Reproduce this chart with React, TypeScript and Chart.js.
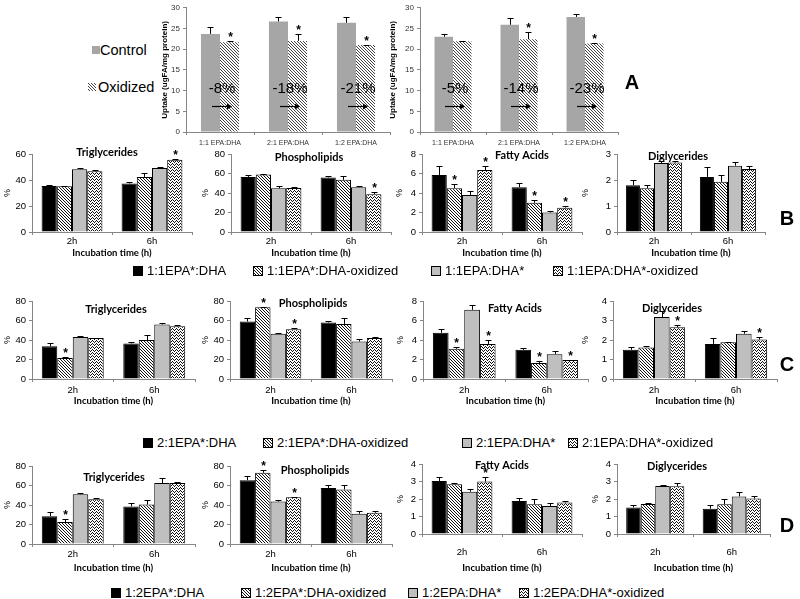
import React, { useEffect, useRef } from 'react';
import { Chart, registerables } from 'chart.js';
Chart.register(...registerables);

const SANS = "'Liberation Sans', Arial, sans-serif";
const TFONT = "Lato, 'Liberation Sans', Arial, sans-serif";

// ---------------- Panel A data ----------------
const aCategories = ['1:1 EPA:DHA', '2:1 EPA:DHA', '1:2 EPA:DHA'];
const aSeriesNames = ['Control', 'Oxidized'];
const aLeftControl = [23.7, 26.7, 26.4];
const aLeftControlErr = [1.6, 1.0, 1.4];
const aLeftOxidized = [21.7, 22.0, 21.0];
const aLeftOxidizedErr = [0.2, 1.7, 0.1];
const aLeftSig = [1, 1, 1];
const aLeftChange = ['-8%', '-18%', '-21%'];
const aRightControl = [23.0, 25.9, 27.8];
const aRightControlErr = [0.6, 1.6, 0.7];
const aRightOxidized = [21.9, 22.4, 21.4];
const aRightOxidizedErr = [0.2, 1.7, 0.1];
const aRightSig = [0, 1, 1];
const aRightChange = ['-5%', '-14%', '-23%'];

// ---------------- Rows B, C, D ----------------
const timePoints = ['2h', '6h'];
const rowBNames = ['1:1EPA*:DHA', '1:1EPA*:DHA-oxidized', '1:1EPA:DHA*', '1:1EPA:DHA*-oxidized'];
const rowCNames = ['2:1EPA*:DHA', '2:1EPA*:DHA-oxidized', '2:1EPA:DHA*', '2:1EPA:DHA*-oxidized'];
const rowDNames = ['1:2EPA*:DHA', '1:2EPA*:DHA-oxidized', '1:2EPA:DHA*', '1:2EPA:DHA*-oxidized'];
const panelTitles = ['Triglycerides', 'Phospholipids', 'Fatty Acids', 'Diglycerides'];
const xTitle = 'Incubation time (h)';

// each: [series][2h, 6h]
const bTrigMeans = [[35.3, 37.3], [35.1, 42.4], [48.2, 49.2], [46.7, 55.6]];
const bTrigErr = [[0.5, 1.2], [0.5, 2.9], [1.1, 1.1], [0.9, 0.4]];
const bTrigSig = [[0, 0], [0, 0], [0, 0], [0, 1]];
const bPhosMeans = [[56.5, 56.0], [59.0, 53.5], [44.8, 46.0], [45.2, 38.8]];
const bPhosErr = [[1.5, 1.3], [0.3, 4.0], [2.2, 1.3], [0.5, 2.2]];
const bPhosSig = [[0, 0], [0, 0], [0, 0], [0, 1]];
const bFattyMeans = [[5.85, 4.6], [4.5, 3.0], [3.8, 2.0], [6.35, 2.5]];
const bFattyErr = [[0.9, 0.4], [0.4, 0.25], [0.4, 0.2], [0.4, 0.15]];
const bFattySig = [[0, 0], [1, 1], [0, 0], [1, 1]];
const bDigMeans = [[1.8, 2.12], [1.68, 1.93], [2.65, 2.55], [2.67, 2.42]];
const bDigErr = [[0.2, 0.38], [0.12, 0.27], [0.1, 0.15], [0.08, 0.1]];
const bDigSig = [[0, 0], [0, 0], [0, 0], [0, 0]];

const cTrigMeans = [[33.5, 36.5], [21.5, 40.0], [43.2, 56.0], [42.0, 54.0]];
const cTrigErr = [[3.0, 1.0], [0.8, 5.5], [0.6, 1.3], [0.5, 1.0]];
const cTrigSig = [[0, 0], [1, 0], [0, 0], [0, 0]];
const cPhosMeans = [[59.0, 58.0], [73.5, 56.5], [46.5, 38.5], [51.0, 42.0]];
const cPhosErr = [[3.5, 1.5], [0.5, 6.5], [1.0, 2.5], [0.8, 1.3]];
const cPhosSig = [[0, 0], [1, 0], [0, 0], [1, 0]];
const cFattyMeans = [[4.75, 3.0], [3.1, 1.65], [7.1, 2.55], [3.6, 1.95]];
const cFattyErr = [[0.35, 0.15], [0.15, 0.2], [0.45, 0.35], [0.35, 0.05]];
const cFattySig = [[0, 0], [1, 1], [0, 0], [1, 1]];
const cDigMeans = [[1.5, 1.8], [1.62, 1.88], [3.18, 2.32], [2.65, 2.02]];
const cDigErr = [[0.13, 0.3], [0.05, 0.04], [0.29, 0.13], [0.11, 0.15]];
const cDigSig = [[0, 0], [0, 0], [0, 0], [1, 1]];

const dTrigMeans = [[28.5, 38.5], [22.5, 40.5], [51.0, 62.5], [46.0, 62.5]];
const dTrigErr = [[4.0, 3.5], [3.0, 5.0], [1.0, 5.0], [0.7, 0.7]];
const dTrigSig = [[0, 0], [1, 0], [0, 0], [0, 0]];
const dPhosMeans = [[65.5, 57.5], [73.0, 56.0], [43.5, 31.0], [48.0, 32.0]];
const dPhosErr = [[4.0, 3.5], [3.0, 4.3], [2.0, 3.0], [0.5, 1.5]];
const dPhosSig = [[0, 0], [1, 0], [0, 0], [1, 0]];
const dFattyMeans = [[3.03, 1.88], [2.85, 1.7], [2.42, 1.6], [3.0, 1.8]];
const dFattyErr = [[0.22, 0.15], [0.08, 0.28], [0.15, 0.17], [0.27, 0.07]];
const dFattySig = [[0, 0], [0, 0], [0, 0], [1, 0]];
const dDigMeans = [[1.52, 1.45], [1.72, 1.7], [2.75, 2.15], [2.73, 2.03]];
const dDigErr = [[0.16, 0.18], [0.06, 0.32], [0.07, 0.25], [0.19, 0.17]];
const dDigSig = [[0, 0], [0, 0], [0, 0], [0, 0]];

// y-axis ranges: [max, step]
const bAxes = [[60, 10], [80, 20], [8, 2], [3, 0.5]];
const cAxes = [[80, 20], [80, 20], [8, 2], [4, 1]];
const dAxes = [[80, 20], [80, 20], [4, 1], [4, 1]];

const seriesFills = ['black', 'diag', 'gray', 'wave'];

// ---------------- helpers ----------------
function makeFill(kind: string): any {
  if (kind === 'black') return '#000000';
  if (kind === 'gray') return '#BFBFBF';
  if (kind === 'ctrl') return '#A6A6A6';
  const c = document.createElement('canvas');
  if (kind === 'diag' || kind === 'diagA') {
    const s = 3;
    c.width = s; c.height = s;
    const ctx = c.getContext('2d')!;
    ctx.fillStyle = '#fff'; ctx.fillRect(0, 0, s, s);
    ctx.fillStyle = kind === 'diag' ? '#111' : '#444';
    // one pixel per row, shifting right each row -> "\" lines
    for (let r = 0; r < s; r++) ctx.fillRect(r, r, 1, 1);
    return ctx.createPattern(c, 'repeat');
  }
  c.width = 4; c.height = 3;
  const ctx = c.getContext('2d')!;
  ctx.fillStyle = '#fff'; ctx.fillRect(0, 0, 4, 3);
  ctx.fillStyle = '#111';
  ctx.fillRect(0, 2, 1, 1);
  ctx.fillRect(1, 1, 1, 1);
  ctx.fillRect(2, 0, 1, 1);
  ctx.fillRect(3, 1, 1, 1);
  return ctx.createPattern(c, 'repeat');
}

function decor(errs: number[][], sig: number[][], cap: number, extra?: (chart: any) => void) {
  return {
    id: 'decor',
    afterDatasetsDraw(chart: any) {
      const ctx = chart.ctx;
      const ys = chart.scales.y;
      ctx.save();
      chart.data.datasets.forEach((ds: any, i: number) => {
        const meta = chart.getDatasetMeta(i);
        meta.data.forEach((el: any, j: number) => {
          const v = ds.data[j];
          const e = errs[i][j];
          const x = Math.round(el.x) + 0.5;
          const yt = Math.round(ys.getPixelForValue(v + e)) + 0.5;
          ctx.strokeStyle = '#000';
          ctx.lineWidth = 1;
          ctx.beginPath();
          ctx.moveTo(x, el.y);
          ctx.lineTo(x, yt);
          ctx.moveTo(x - cap, yt);
          ctx.lineTo(x + cap, yt);
          ctx.stroke();
          if (sig[i][j]) {
            ctx.fillStyle = '#000';
            ctx.font = `bold 12px ${SANS}`;
            ctx.textAlign = 'center';
            ctx.textBaseline = 'alphabetic';
            ctx.fillText('*', x, yt - 1);
          }
        });
      });
      if (extra) extra(chart);
      ctx.restore();
    },
  };
}

type Geo = { pL: number; pR: number; pT: number; pB: number; pctX: number; tickY: number; titleY: number; tx: number; ty: number };
type RowSpec = { title: string; means: number[][]; errs: number[][]; sig: number[][]; axis: number[]; comma?: boolean; names: string[]; geo: Geo };

function rowLayout(g: Geo) {
  const x = Math.round(g.pctX - 5.4);
  const y = g.pT - 12;
  const bottom = Math.round(g.titleY + 6.7);
  return {
    x, y, w: g.pR + 3 - x, h: bottom - y,
    yW: g.pL - x, xH: bottom - g.pB, padTop: 12, padRight: 3,
    tickPad: g.tickY - g.pB - 3 - 5.7, titlePad: bottom - g.titleY - 5.7,
  };
}

function rowConfig(s: RowSpec) {
  const L = rowLayout(s.geo);
  const fills = seriesFills.map(makeFill);
  const axisColor = '#868686';
  return {
    type: 'bar',
    data: {
      labels: timePoints,
      datasets: s.means.map((m, i) => ({
        label: s.names[i], data: m, backgroundColor: fills[i], borderColor: '#000', borderWidth: 1,
        categoryPercentage: 0.76, barPercentage: 1,
      })),
    },
    options: {
      animation: false, responsive: false, devicePixelRatio: 1,
      layout: { padding: { top: L.padTop, right: L.padRight, left: 0, bottom: 0 } },
      plugins: { legend: { display: false }, tooltip: { enabled: false } },
      scales: {
        x: {
          ticks: { font: { family: SANS, size: 9.5 }, color: '#000', padding: L.tickPad, maxRotation: 0 },
          grid: { display: true, drawOnChartArea: false, drawTicks: true, tickLength: 3, offset: true, color: axisColor },
          border: { display: true, color: axisColor },
          title: { display: true, text: xTitle, font: { family: TFONT, size: 9.5, weight: 'bold' }, padding: { top: 0, bottom: L.titlePad }, color: '#000' },
          afterFit: (sc: any) => { sc.height = L.xH; },
        },
        y: {
          min: 0, max: s.axis[0],
          ticks: {
            stepSize: s.axis[1], font: { family: SANS, size: 9.5 }, color: '#000', padding: 3,
            callback: (v: any) => (s.comma ? String(v).replace('.', ',') : String(v)),
          },
          grid: { display: true, drawOnChartArea: false, drawTicks: true, tickLength: 3, color: axisColor },
          border: { display: true, color: axisColor },
          title: { display: true, text: '%', font: { family: SANS, size: 9 }, padding: 0, color: '#000' },
          afterFit: (sc: any) => { sc.width = L.yW; },
        },
      },
    },
    plugins: [decor(s.errs, s.sig, 3, (chart: any) => {
      const ctx = chart.ctx;
      ctx.fillStyle = '#000';
      ctx.font = `bold 11px ${TFONT}`;
      ctx.textAlign = 'center';
      ctx.textBaseline = 'middle';
      ctx.fillText(s.title, s.geo.tx - L.x, s.geo.ty - L.y);
    })],
  };
}

type ASpec = { control: number[]; controlErr: number[]; ox: number[]; oxErr: number[]; sig: number[]; change: string[]; x: number; pL: number; pR: number };

function aConfig(s: ASpec) {
  const axisColor = '#868686';
  const yW = s.pL - s.x;
  return {
    type: 'bar',
    data: {
      labels: aCategories,
      datasets: [
        { label: aSeriesNames[0], data: s.control, backgroundColor: makeFill('ctrl'), borderWidth: 0, categoryPercentage: 0.56, barPercentage: 1 },
        { label: aSeriesNames[1], data: s.ox, backgroundColor: makeFill('diagA'), borderWidth: 0, categoryPercentage: 0.56, barPercentage: 1 },
      ],
    },
    options: {
      animation: false, responsive: false, devicePixelRatio: 1,
      layout: { padding: { top: 5, right: 2, left: 0, bottom: 0 } },
      plugins: { legend: { display: false }, tooltip: { enabled: false } },
      scales: {
        x: {
          ticks: { font: { family: SANS, size: 7 }, color: '#333', padding: 3.8, maxRotation: 0, autoSkip: false },
          grid: { display: true, drawOnChartArea: false, drawTicks: true, tickLength: 3, offset: true, color: axisColor },
          border: { display: true, color: axisColor },
          afterFit: (sc: any) => { sc.height = 18; },
        },
        y: {
          min: 0, max: 30,
          ticks: { stepSize: 5, font: { family: SANS, size: 8 }, color: '#333', padding: 3 },
          grid: { display: true, drawOnChartArea: false, drawTicks: true, tickLength: 3, color: axisColor },
          border: { display: true, color: axisColor },
          title: { display: true, text: 'Uptake (ugFA/mg protein)', font: { family: SANS, size: 8, weight: 'bold' }, padding: 0, color: '#000' },
          afterFit: (sc: any) => { sc.width = yW; },
        },
      },
    },
    plugins: [decor([s.controlErr, s.oxErr], [[0, 0, 0], s.sig], 3, (chart: any) => {
      const ctx = chart.ctx;
      const xs = chart.scales.x;
      const ys = chart.scales.y;
      s.change.forEach((txt, i) => {
        const cx = xs.getPixelForValue(i) + 2;
        ctx.fillStyle = '#000';
        ctx.font = `15px ${SANS}`;
        ctx.textAlign = 'center';
        ctx.textBaseline = 'middle';
        ctx.fillText(txt, cx, ys.getPixelForValue(10.4));
        const ay = Math.round(ys.getPixelForValue(6.4)) + 0.5;
        ctx.strokeStyle = '#000';
        ctx.lineWidth = 1.2;
        ctx.beginPath();
        ctx.moveTo(cx - 10, ay); ctx.lineTo(cx + 9, ay);
        ctx.stroke();
        ctx.beginPath();
        ctx.moveTo(cx + 10, ay); ctx.lineTo(cx + 5, ay - 3); ctx.lineTo(cx + 5, ay + 3); ctx.closePath();
        ctx.fillStyle = '#000';
        ctx.fill();
      });
    })],
  };
}

function ChartCanvas({ x, y, w, h, make }: { x: number; y: number; w: number; h: number; make: () => any }) {
  const ref = useRef<HTMLCanvasElement>(null);
  useEffect(() => {
    const chart = new Chart(ref.current as HTMLCanvasElement, make());
    return () => chart.destroy();
  }, []);
  return <canvas ref={ref} width={w} height={h} style={{ position: 'absolute', left: x, top: y, width: w, height: h }} />;
}

function Swatch({ kind, x, y, size, border }: { kind: string; x: number; y: number; size: number; border: boolean }) {
  const ref = useRef<HTMLCanvasElement>(null);
  useEffect(() => {
    const ctx = (ref.current as HTMLCanvasElement).getContext('2d')!;
    ctx.clearRect(0, 0, size, size);
    ctx.fillStyle = makeFill(kind);
    ctx.fillRect(0, 0, size, size);
    if (border) {
      ctx.strokeStyle = '#000';
      ctx.lineWidth = 1;
      ctx.strokeRect(0.5, 0.5, size - 1, size - 1);
    }
  }, []);
  return <canvas ref={ref} width={size} height={size} style={{ position: 'absolute', left: x, top: y, width: size, height: size }} />;
}

function RowLegend({ names, xs, y }: { names: string[]; xs: number[]; y: number }) {
  return (
    <>
      {names.map((n, i) => (
        <React.Fragment key={n}>
          <Swatch kind={seriesFills[i]} x={xs[i]} y={y - 5} size={10} border={true} />
          <div style={{ position: 'absolute', left: xs[i] + 14, top: y - 8, fontFamily: SANS, fontSize: 13, lineHeight: '16px', whiteSpace: 'nowrap', color: '#000' }}>{n}</div>
        </React.Fragment>
      ))}
    </>
  );
}

const rowB: RowSpec[] = [
  { title: panelTitles[0], means: bTrigMeans, errs: bTrigErr, sig: bTrigSig, axis: bAxes[0], names: rowBNames, geo: { pL: 32, pR: 192, pT: 154, pB: 232, pctX: 7, tickY: 241, titleY: 253, tx: 107, ty: 152 } },
  { title: panelTitles[1], means: bPhosMeans, errs: bPhosErr, sig: bPhosSig, axis: bAxes[1], names: rowBNames, geo: { pL: 231, pR: 391, pT: 154, pB: 232, pctX: 205, tickY: 241, titleY: 253, tx: 309, ty: 157 } },
  { title: panelTitles[2], means: bFattyMeans, errs: bFattyErr, sig: bFattySig, axis: bAxes[2], names: rowBNames, geo: { pL: 422, pR: 582, pT: 154, pB: 232, pctX: 399, tickY: 241, titleY: 253, tx: 522, ty: 155 } },
  { title: panelTitles[3], means: bDigMeans, errs: bDigErr, sig: bDigSig, axis: bAxes[3], comma: true, names: rowBNames, geo: { pL: 617, pR: 765, pT: 154, pB: 232, pctX: 585, tickY: 241, titleY: 253, tx: 678, ty: 156 } },
];
const rowC: RowSpec[] = [
  { title: panelTitles[0], means: cTrigMeans, errs: cTrigErr, sig: cTrigSig, axis: cAxes[0], names: rowCNames, geo: { pL: 32, pR: 195, pT: 301, pB: 379, pctX: 7, tickY: 390, titleY: 401, tx: 116, ty: 309 } },
  { title: panelTitles[1], means: cPhosMeans, errs: cPhosErr, sig: cPhosSig, axis: cAxes[1], names: rowCNames, geo: { pL: 230, pR: 392, pT: 301, pB: 379, pctX: 205, tickY: 390, titleY: 401, tx: 313, ty: 303 } },
  { title: panelTitles[2], means: cFattyMeans, errs: cFattyErr, sig: cFattySig, axis: cAxes[2], names: rowCNames, geo: { pL: 423, pR: 588, pT: 301, pB: 379, pctX: 400, tickY: 390, titleY: 401, tx: 515, ty: 308 } },
  { title: panelTitles[3], means: cDigMeans, errs: cDigErr, sig: cDigSig, axis: cAxes[3], names: rowCNames, geo: { pL: 613, pR: 777, pT: 301, pB: 379, pctX: 585, tickY: 390, titleY: 401, tx: 672, ty: 308 } },
];
const rowD: RowSpec[] = [
  { title: panelTitles[0], means: dTrigMeans, errs: dTrigErr, sig: dTrigSig, axis: dAxes[0], names: rowDNames, geo: { pL: 32, pR: 195, pT: 466, pB: 544, pctX: 7, tickY: 554, titleY: 568, tx: 114, ty: 477 } },
  { title: panelTitles[1], means: dPhosMeans, errs: dPhosErr, sig: dPhosSig, axis: dAxes[1], names: rowDNames, geo: { pL: 230, pR: 392, pT: 466, pB: 544, pctX: 205, tickY: 554, titleY: 568, tx: 315, ty: 470 } },
  { title: panelTitles[2], means: dFattyMeans, errs: dFattyErr, sig: dFattySig, axis: dAxes[2], names: rowDNames, geo: { pL: 422, pR: 582, pT: 464, pB: 534, pctX: 400, tickY: 552, titleY: 568, tx: 502, ty: 465 } },
  { title: panelTitles[3], means: dDigMeans, errs: dDigErr, sig: dDigSig, axis: dAxes[3], names: rowDNames, geo: { pL: 617, pR: 770, pT: 464, pB: 534, pctX: 595, tickY: 552, titleY: 568, tx: 677, ty: 466 } },
];

const aLeft: ASpec = { control: aLeftControl, controlErr: aLeftControlErr, ox: aLeftOxidized, oxErr: aLeftOxidizedErr, sig: aLeftSig, change: aLeftChange, x: 160, pL: 186, pR: 390 };
const aRight: ASpec = { control: aRightControl, controlErr: aRightControlErr, ox: aRightOxidized, oxErr: aRightOxidizedErr, sig: aRightSig, change: aRightChange, x: 388, pL: 420, pR: 618 };

const letterStyle = (x: number, y: number): React.CSSProperties => ({
  position: 'absolute', left: x - 12, top: y - 14, width: 24, height: 28, lineHeight: '28px', textAlign: 'center',
  fontFamily: SANS, fontWeight: 'bold', fontSize: 20, color: '#000',
});

export default function App() {
  const all = [...rowB, ...rowC, ...rowD];
  return (
    <div style={{ position: 'absolute', left: 0, top: 0, width: 800, height: 599, background: '#fff', overflow: 'hidden' }}>
      {[aLeft, aRight].map((s, i) => (
        <ChartCanvas key={'a' + i} x={s.x} y={0} w={s.pR + 2 - s.x} h={150} make={() => aConfig(s)} />
      ))}
      <Swatch kind="ctrl" x={92} y={46} size={8} border={false} />
      <div style={{ position: 'absolute', left: 100, top: 41, fontFamily: SANS, fontSize: 14.5, lineHeight: '18px', whiteSpace: 'nowrap' }}>{aSeriesNames[0]}</div>
      <Swatch kind="diagA" x={88} y={83} size={8} border={false} />
      <div style={{ position: 'absolute', left: 98, top: 78, fontFamily: SANS, fontSize: 14.5, lineHeight: '18px', whiteSpace: 'nowrap' }}>{aSeriesNames[1]}</div>
      <div style={letterStyle(632, 82)}>A</div>

      {all.map((s, i) => {
        const L = rowLayout(s.geo);
        return <ChartCanvas key={'r' + i} x={L.x} y={L.y} w={L.w} h={L.h} make={() => rowConfig(s)} />;
      })}

      <RowLegend names={rowBNames} xs={[133, 253, 431, 553]} y={271} />
      <RowLegend names={rowCNames} xs={[143, 263, 462, 568]} y={443} />
      <RowLegend names={rowDNames} xs={[111, 241, 408, 519]} y={593} />

      <div style={letterStyle(787, 218)}>B</div>
      <div style={letterStyle(787, 364)}>C</div>
      <div style={letterStyle(787, 525)}>D</div>
    </div>
  );
}
